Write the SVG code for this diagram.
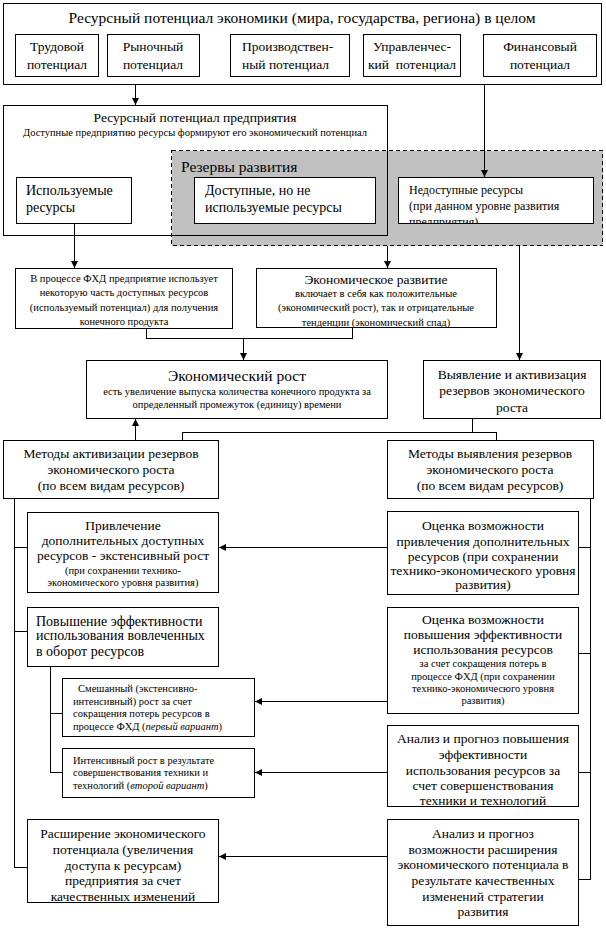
<svg xmlns="http://www.w3.org/2000/svg" width="606" height="930" viewBox="0 0 606 930">
<style>
.b{fill:#fff;stroke:#000;stroke-width:1;shape-rendering:crispEdges}
.n{fill:none;stroke:#000;stroke-width:1;shape-rendering:crispEdges}
.c{fill:none;stroke:#000;stroke-width:1;shape-rendering:crispEdges}
.r{fill:#c0c0c0;stroke:#000;stroke-width:1;stroke-dasharray:4,3;shape-rendering:crispEdges}
text{font-family:"Liberation Serif","Noto Serif","DejaVu Serif",FreeSerif,"Times New Roman",Times,serif;fill:#000}
.t15{font-size:15.5px}
.t14{font-size:14px}
.t13{font-size:13.5px}
.t12{font-size:12px}
.s{font-size:10.5px}
.m{text-anchor:middle}
.i{font-style:italic}
</style>
<defs>
<marker id="ah" markerWidth="7" markerHeight="7" refX="7" refY="3.5" orient="auto" markerUnits="userSpaceOnUse">
<path d="M0,0 L7,3.5 L0,7 z" fill="#000"/>
</marker>
<clipPath id="cNed"><rect x="399" y="178" width="193" height="45"/></clipPath>
<clipPath id="cER"><rect x="257" y="269" width="239" height="58"/></clipPath>
<clipPath id="cAP"><rect x="388" y="726" width="189" height="80"/></clipPath>
<clipPath id="cRas"><rect x="28" y="820" width="190" height="82"/></clipPath>
</defs>

<g id="top">
<rect class="b" x="3.5" y="3.5" width="598" height="81"/>
<text class="t15 m" x="302" y="23">Ресурсный потенциал экономики (мира, государства, региона) в целом</text>
</g>
<g id="trud">
<rect class="b" x="15.5" y="34.5" width="83" height="42"/>
<text class="t13 m" x="57" y="51">Трудовой</text>
<text class="t13 m" x="57" y="69">потенциал</text>
</g>
<g id="rynoch">
<rect class="b" x="107.5" y="34.5" width="92" height="42"/>
<text class="t13 m" x="153" y="51">Рыночный</text>
<text class="t13 m" x="153" y="69">потенциал</text>
</g>
<g id="proizv">
<rect class="b" x="230.5" y="34.5" width="119" height="42"/>
<text class="t13" x="242" y="51">Производствен-</text>
<text class="t13" x="242" y="69">ный потенциал</text>
</g>
<g id="upr">
<rect class="b" x="363.5" y="34.5" width="97" height="42"/>
<text class="t13 m" x="412" y="51">Управленчес-</text>
<text class="t13 m" x="412" y="69" xml:space="preserve">кий  потенциал</text>
</g>
<g id="fin">
<rect class="b" x="483.5" y="34.5" width="113" height="42"/>
<text class="t13 m" x="540" y="51">Финансовый</text>
<text class="t13 m" x="540" y="69">потенциал</text>
</g>

<g id="enterprise">
<rect class="b" x="3.5" y="105.5" width="384" height="130"/>
<text class="t13 m" x="195" y="122">Ресурсный потенциал предприятия</text>
<text class="s m" x="195" y="136">Доступные предприятию ресурсы формируют его экономический потенциал</text>
</g>
<g id="reserves">
<rect class="r" x="171.5" y="150.5" width="431" height="95"/>
<rect class="n" x="3.5" y="105.5" width="384" height="130"/>
<text class="t15" x="181" y="172">Резервы развития</text>
</g>
<g id="used">
<rect class="b" x="16.5" y="177.5" width="115" height="46"/>
<text class="t14" x="26" y="195">Используемые</text>
<text class="t14" x="26" y="212">ресурсы</text>
</g>
<g id="avail">
<rect class="b" x="194.5" y="177.5" width="181" height="46"/>
<text class="t14" x="205" y="195">Доступные, но не</text>
<text class="t14" x="205" y="212">используемые ресурсы</text>
</g>
<g id="unavail">
<rect class="b" x="398.5" y="177.5" width="195" height="46"/>
<g clip-path="url(#cNed)">
<text class="t12" x="409" y="194">Недоступные ресурсы</text>
<text class="t12" x="409" y="210">(при данном уровне развития</text>
<text class="t12" x="409" y="226">предприятия)</text>
</g>
</g>

<g id="fhd">
<rect class="b" x="15.5" y="268.5" width="217" height="60"/>
<text class="s m" x="124" y="282">В процессе ФХД предприятие использует</text>
<text class="s m" x="124" y="296">некоторую часть доступных ресурсов</text>
<text class="s m" x="124" y="311">(используемый потенциал) для получения</text>
<text class="s m" x="124" y="325">конечного продукта</text>
</g>
<g id="econdev">
<rect class="b" x="256.5" y="268.5" width="240" height="59"/>
<g clip-path="url(#cER)">
<text class="t13 m" x="376" y="284">Экономическое развитие</text>
<text class="s m" x="376" y="297">включает в себя как положительные</text>
<text class="s m" x="376" y="311">(экономический рост), так и отрицательные</text>
<text class="s m" x="376" y="326">тенденции (экономический спад)</text>
</g>
</g>

<g id="growth">
<rect class="b" x="86.5" y="360.5" width="301" height="58"/>
<text class="t15 m" x="237" y="381">Экономический рост</text>
<text class="s m" x="237" y="395">есть увеличение выпуска количества конечного продукта за</text>
<text class="s m" x="237" y="408">определенный промежуток (единицу) времени</text>
</g>
<g id="reveal">
<rect class="b" x="423.5" y="360.5" width="177" height="58"/>
<text class="t13 m" x="512" y="379">Выявление и активизация</text>
<text class="t13 m" x="512" y="395">резервов экономического</text>
<text class="t13 m" x="512" y="412">роста</text>
</g>

<g id="methAct">
<rect class="b" x="3.5" y="440.5" width="215" height="58"/>
<text class="t13 m" x="111" y="458">Методы активизации резервов</text>
<text class="t13 m" x="111" y="474">экономического роста</text>
<text class="t13 m" x="111" y="490">(по всем видам ресурсов)</text>
</g>
<g id="methRev">
<rect class="b" x="387.5" y="440.5" width="206" height="58"/>
<text class="t13 m" x="490" y="458">Методы выявления резервов</text>
<text class="t13 m" x="490" y="474">экономического роста</text>
<text class="t13 m" x="490" y="490">(по всем видам ресурсов)</text>
</g>

<g id="attract">
<rect class="b" x="27.5" y="512.5" width="191" height="80"/>
<text class="t13 m" x="123" y="530">Привлечение</text>
<text class="t13 m" x="123" y="545">дополнительных доступных</text>
<text class="t13 m" x="123" y="560">ресурсов - экстенсивный рост</text>
<text class="s m" x="123" y="574">(при сохранении технико-</text>
<text class="s m" x="123" y="586">экономического уровня развития)</text>
</g>
<g id="evalAttract">
<rect class="b" x="387.5" y="511.5" width="191" height="83"/>
<text class="t13 m" x="483" y="530">Оценка возможности</text>
<text class="t13 m" x="483" y="546">привлечения дополнительных</text>
<text class="t13 m" x="483" y="561">ресурсов (при сохранении</text>
<text class="t13 m" x="483" y="575">технико-экономического уровня</text>
<text class="t13 m" x="483" y="589">развития)</text>
</g>

<g id="efficiency">
<rect class="b" x="27.5" y="607.5" width="191" height="59"/>
<text class="t14" x="36" y="626">Повышение эффективности</text>
<text class="t14" x="36" y="640">использования вовлеченных</text>
<text class="t14" x="36" y="656">в оборот ресурсов</text>
</g>
<g id="evalEff">
<rect class="b" x="387.5" y="607.5" width="191" height="106"/>
<text class="t13 m" x="483" y="624">Оценка возможности</text>
<text class="t13 m" x="483" y="639">повышения эффективности</text>
<text class="t13 m" x="483" y="654">использования ресурсов</text>
<text class="s m" x="483" y="667">за счет сокращения потерь в</text>
<text class="s m" x="483" y="680">процессе ФХД (при сохранении</text>
<text class="s m" x="483" y="692">технико-экономичесюго уровня</text>
<text class="s m" x="483" y="704">развития)</text>
</g>

<g id="mixed">
<rect class="b" x="62.5" y="678.5" width="192" height="58"/>
<text class="s" x="78" y="692">Смешанный (экстенсивно-</text>
<text class="s" x="73" y="705">интенсивный) рост за счет</text>
<text class="s" x="73" y="717">сокращения потерь ресурсов в</text>
<text class="s" x="73" y="730">процессе ФХД (<tspan class="i">первый вариант</tspan>)</text>
</g>
<g id="intensive">
<rect class="b" x="62.5" y="748.5" width="192" height="49"/>
<text class="s" x="73" y="764">Интенсивный рост в результате</text>
<text class="s" x="73" y="776">совершенствования техники и</text>
<text class="s" x="73" y="789">технологий (<tspan class="i">второй вариант</tspan>)</text>
</g>
<g id="analysisEff">
<rect class="b" x="387.5" y="725.5" width="191" height="81"/>
<g clip-path="url(#cAP)">
<text class="t13 m" x="483" y="743">Анализ и прогноз повышения</text>
<text class="t13 m" x="483" y="759">эффективности</text>
<text class="t13 m" x="483" y="775">использования ресурсов за</text>
<text class="t13 m" x="483" y="790">счет совершенствования</text>
<text class="t13 m" x="483" y="805">техники и технологий</text>
</g>
</g>

<g id="expansion">
<rect class="b" x="27.5" y="819.5" width="191" height="83"/>
<g clip-path="url(#cRas)">
<text class="t13 m" x="123" y="838">Расширение экономического</text>
<text class="t13 m" x="123" y="854">потенциала (увеличения</text>
<text class="t13 m" x="123" y="870">доступа к ресурсам)</text>
<text class="t13 m" x="123" y="885">предприятия за счет</text>
<text class="t13 m" x="123" y="901">качественных изменений</text>
</g>
</g>
<g id="analysisExp">
<rect class="b" x="387.5" y="819.5" width="191" height="106"/>
<text class="t13 m" x="483" y="838">Анализ и прогноз</text>
<text class="t13 m" x="483" y="854">возможности расширения</text>
<text class="t13 m" x="483" y="869">экономического потенциала в</text>
<text class="t13 m" x="483" y="885">результате качественных</text>
<text class="t13 m" x="483" y="901">изменений стратегии</text>
<text class="t13 m" x="483" y="916">развития</text>
</g>

<g id="connectors">
<path class="c" d="M135.5,85 V105" marker-end="url(#ah)"/>
<path class="c" d="M484.5,85 V177" marker-end="url(#ah)"/>
<path class="c" d="M74.5,224 V268" marker-end="url(#ah)"/>
<path class="c" d="M387.5,246 V268" marker-end="url(#ah)"/>
<path class="c" d="M519.5,246 V360" marker-end="url(#ah)"/>
<path class="c" d="M146.5,329 V338.5 H352.5 V328"/>
<path class="c" d="M243.5,338.5 V360" marker-end="url(#ah)"/>
<path class="c" d="M135.5,440 V419" marker-end="url(#ah)"/>
<path class="c" d="M472.5,419 V432.5"/>
<path class="c" d="M182.5,440 V432.5 H496.5 V440"/>
<path class="c" d="M14.5,499 V867.5 H27"/>
<path class="c" d="M14.5,547.5 H27"/>
<path class="c" d="M14.5,631.5 H27"/>
<path class="c" d="M50.5,667 V772.5 H62"/>
<path class="c" d="M50.5,713.5 H62"/>
<path class="c" d="M590.5,499 V879.5 H579"/>
<path class="c" d="M590.5,547.5 H579"/>
<path class="c" d="M590.5,653.5 H579"/>
<path class="c" d="M590.5,772.5 H579"/>
<path class="c" d="M387,547.5 H219" marker-end="url(#ah)"/>
<path class="c" d="M387,701.5 H255" marker-end="url(#ah)"/>
<path class="c" d="M387,772.5 H255" marker-end="url(#ah)"/>
<path class="c" d="M387,856.5 H219" marker-end="url(#ah)"/>
</g>
</svg>
